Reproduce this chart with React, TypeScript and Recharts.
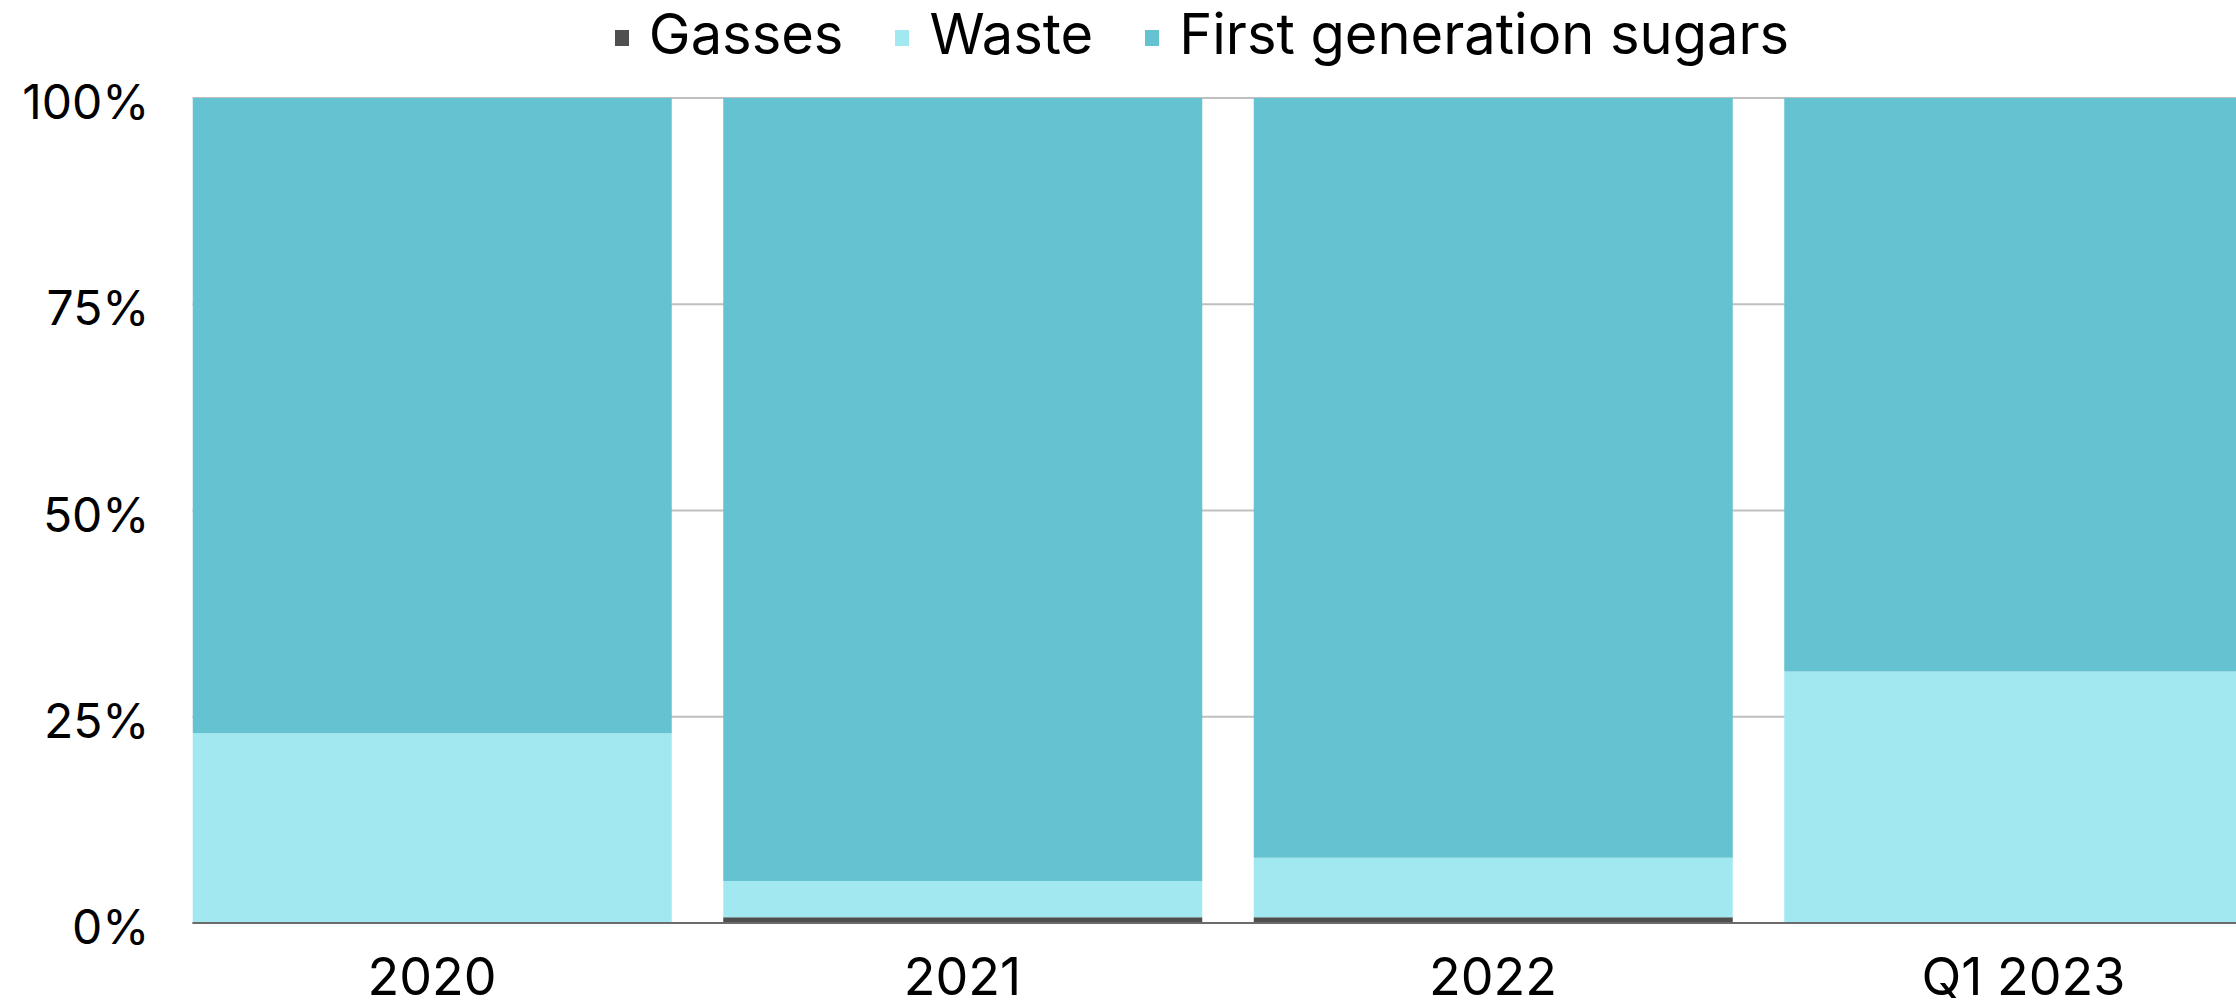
import { BarChart, Bar, XAxis, YAxis, CartesianGrid, Legend } from 'recharts';

// Feedstock mix per period, in percent of total
const periods = ['2020', '2021', '2022', 'Q1 2023'];
const gasses = [0, 0.7, 0.7, 0];
const waste = [23.0, 4.4, 7.2, 30.5];
const firstGenSugars = [77.0, 94.9, 92.1, 69.5];
const yTicks = [0, 25, 50, 75, 100];

const series = [
  { key: 'gasses', name: 'Gasses', color: '#4f4f4f' },
  { key: 'waste', name: 'Waste', color: '#a2e8f0' },
  { key: 'firstGenSugars', name: 'First generation sugars', color: '#64c2d1' },
];

const data = periods.map((period, i) => ({
  period,
  gasses: gasses[i],
  waste: waste[i],
  firstGenSugars: firstGenSugars[i],
}));

const FONT = 'Inter, "Noto Sans", sans-serif';

function FeedstockLegend() {
  return (
    <div
      style={{
        display: 'flex',
        justifyContent: 'center',
        alignItems: 'center',
        height: 68,
        lineHeight: '68px',
        fontFamily: FONT,
        fontSize: 56,
        color: '#000',
        gap: 52,
      }}
    >
      {series.map(s => (
        <div key={s.key} style={{ display: 'flex', alignItems: 'center' }}>
          <span
            style={{ width: 14, height: 16, background: s.color, marginRight: 20, marginTop: 8 }}
          />
          <span>{s.name}</span>
        </div>
      ))}
    </div>
  );
}

export default function App() {
  return (
    <div style={{ position: 'absolute', left: 0, top: 0, width: 2236, height: 1007, overflow: 'hidden', background: '#fff' }}>
      <BarChart
        width={2236}
        height={1007}
        data={data}
        margin={{ top: 30, right: 0, bottom: 0, left: 0 }}
        style={{ fontFamily: FONT }}
      >
        <Legend
          verticalAlign="top"
          content={<FeedstockLegend />}
          wrapperStyle={{ top: 0, left: 402, width: 1600 }}
        />
        <CartesianGrid vertical={false} stroke="#bfbfbf" strokeWidth={2} />
        <XAxis
          dataKey="period"
          padding={{ left: -25.75, right: -52.75 }}
          height={84}
          tickLine={false}
          tickSize={0}
          tickMargin={35}
          axisLine={{ stroke: '#6b6b6b', strokeWidth: 2 }}
          tick={{ fill: '#000', fontSize: 52 }}
        />
        <YAxis
          domain={[0, 100]}
          ticks={yTicks}
          width={192.5}
          axisLine={false}
          tickLine={false}
          tickSize={0}
          tickMargin={43}
          tickFormatter={(v: number) => `${v}%`}
          tick={{ fill: '#000', fontSize: 48, dy: 4 }}
        />
        {series.map(s => (
          <Bar
            key={s.key}
            dataKey={s.key}
            name={s.name}
            stackId="mix"
            fill={s.color}
            barSize={479}
            isAnimationActive={false}
          />
        ))}
      </BarChart>
    </div>
  );
}
